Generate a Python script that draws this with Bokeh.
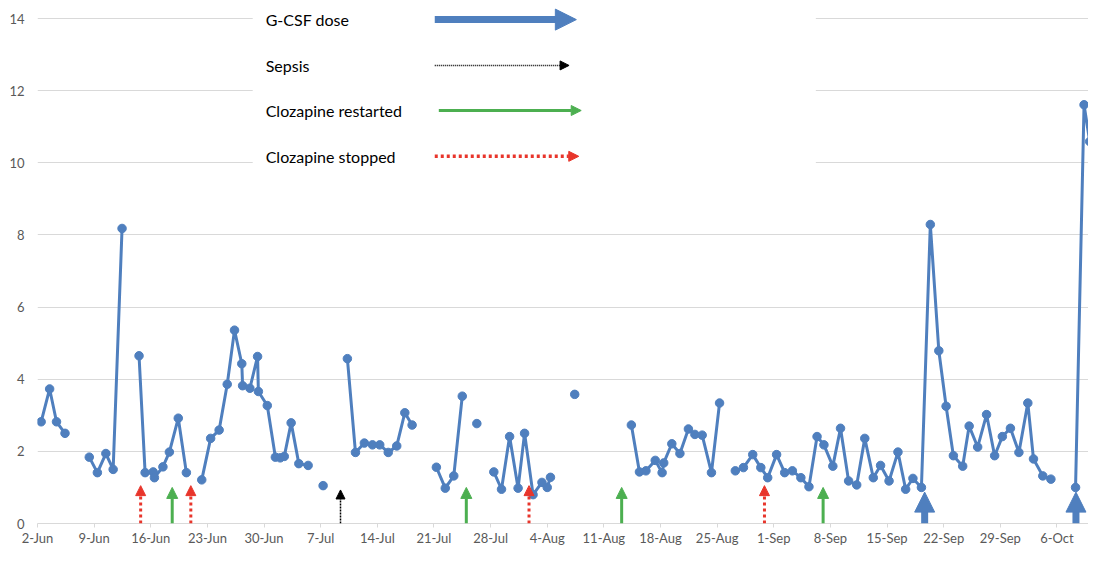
import math
from bokeh.plotting import figure
from bokeh.models import (Arrow, NormalHead, Label, BoxAnnotation, FixedTicker,
                          Range1d, ColumnDataSource)
from bokeh.embed import file_html
from bokeh.resources import INLINE

# ---------------- data ----------------
# x = days since 2-Jun (fractional: measurement time), None = gap in the record
day = [0.45, 1.5, 2.35, 3.4, None,
       6.4, 7.4, 8.45, 9.35, 10.45, None,
       12.55, 13.3, 14.3, 14.45, 15.5, 16.3, 17.4, 18.4, None,
       20.3, 21.4, 22.45, 23.45, 24.35, 25.25, 25.35, 26.25, 27.2, 27.3, 28.4,
       29.4, 30.0, 30.5, 31.35, 32.3, 33.45, None,
       35.3, None,
       38.3, 39.3, 40.4, 41.4, 42.3, 43.35, 44.4, 45.4, 46.3, None,
       49.3, 50.4, 51.45, 52.5, None,
       54.3, None,
       56.4, 57.35, 58.35, 59.4, 60.2, 61.25, 62.35, 63.0, 63.4, None,
       66.4, None,
       73.4, 74.4, 75.2, 76.35, 77.2, 77.4, 78.4, 79.4, 80.45, 81.25, 82.15, 83.3, 84.3, None,
       86.25, 87.25, 88.4, 89.4, 90.25, 91.35, 92.35, 93.3, 94.35, 95.35, 96.35, 97.2,
       98.3, 99.25, 100.25, 101.25, 102.25, 103.3, 104.2, 105.25, 106.35, 107.3, 108.2,
       109.25, 110.35, 111.4, 112.3, 113.2, 114.35, 115.15, 116.2, 117.3, 118.3, 119.25,
       120.25, 121.3, 122.4, 123.1, 124.25, 125.25, None,
       128.3, 129.35, 130.05, 130.7]
neutrophils = [2.82, 3.73, 2.82, 2.5, None,
               1.84, 1.41, 1.94, 1.5, 8.18, None,
               4.65, 1.41, 1.43, 1.27, 1.57, 1.98, 2.92, 1.41, None,
               1.21, 2.36, 2.59, 3.86, 5.36, 4.43, 3.82, 3.75, 4.63, 3.66, 3.27,
               1.84, 1.82, 1.86, 2.79, 1.66, 1.61, None,
               1.05, None,
               4.57, 1.97, 2.23, 2.18, 2.18, 1.97, 2.15, 3.07, 2.73, None,
               1.56, 0.98, 1.32, 3.53, None,
               2.77, None,
               1.43, 0.95, 2.41, 0.98, 2.5, 0.8, 1.14, 1.0, 1.28, None,
               3.58, None,
               2.73, 1.43, 1.46, 1.75, 1.41, 1.68, 2.21, 1.94, 2.62, 2.47, 2.45, 1.41, 3.34, None,
               1.46, 1.55, 1.91, 1.55, 1.27, 1.91, 1.41, 1.46, 1.27, 1.02, 2.41, 2.18,
               1.59, 2.64, 1.18, 1.07, 2.36, 1.27, 1.61, 1.18, 1.98, 0.95, 1.25,
               1.0, 8.29, 4.79, 3.25, 1.88, 1.59, 2.7, 2.12, 3.02, 1.88, 2.41,
               2.64, 1.97, 3.34, 1.79, 1.32, 1.23, None,
               1.0, 11.61, 10.59, 6.95]

tick_days = [0, 7, 14, 21, 28, 35, 42, 49, 56, 63, 70, 77, 84, 91, 98, 105, 112, 119, 126]
tick_labels = ["2-Jun", "9-Jun", "16-Jun", "23-Jun", "30-Jun", "7-Jul", "14-Jul", "21-Jul",
               "28-Jul", "4-Aug", "11-Aug", "18-Aug", "25-Aug", "1-Sep", "8-Sep", "15-Sep",
               "22-Sep", "29-Sep", "6-Oct"]
y_ticks = [0, 2, 4, 6, 8, 10, 12, 14]

# events (days since 2-Jun)
gcsf_dose = [109.65, 128.35]
sepsis = [37.45]
clozapine_restarted = [16.65, 53.0, 72.2, 97.1]
clozapine_stopped = [12.75, 18.95, 60.75, 89.85]

legend_labels = ["G-CSF dose", "Sepsis", "Clozapine restarted", "Clozapine stopped"]

# ---------------- style ----------------
BLUE = "#4f7fbe"
RED = "#e8352b"
GREEN = "#4caf50"
BLACK = "#000000"
GRID = "#d9d9d9"
TXT = "#595959"
FONT = "Lato"

p = figure(width=1088, height=548, x_range=Range1d(0, 129.9), y_range=Range1d(0, 14.5),
           output_backend="svg", toolbar_location=None,
           min_border_left=37, min_border_right=0, min_border_top=0, min_border_bottom=0)
p.outline_line_color = None
p.background_fill_color = "white"
p.border_fill_color = "white"

p.xgrid.visible = False
p.ygrid.grid_line_color = GRID
p.ygrid.grid_line_width = 1
p.ygrid.ticker = FixedTicker(ticks=y_ticks)

p.yaxis.ticker = FixedTicker(ticks=y_ticks)
p.yaxis.axis_line_color = None
p.yaxis.major_tick_line_color = None
p.yaxis.minor_tick_line_color = None
p.yaxis.major_label_standoff = 7
p.yaxis.major_label_text_font = FONT
p.yaxis.major_label_text_font_size = "13px"
p.yaxis.major_label_text_color = TXT

p.xaxis.ticker = FixedTicker(ticks=tick_days)
p.xaxis.major_label_overrides = {d: lab for d, lab in zip(tick_days, tick_labels)}
p.xaxis.axis_line_color = GRID
p.xaxis.axis_line_width = 1
p.xaxis.major_tick_line_color = GRID
p.xaxis.major_tick_in = 0
p.xaxis.major_tick_out = 4
p.xaxis.minor_tick_line_color = None
p.xaxis.major_label_standoff = 2
p.xaxis.major_label_text_font = FONT
p.xaxis.major_label_text_font_size = "13px"
p.xaxis.major_label_text_color = TXT

# white legend panel hiding the grid lines behind the legend
p.add_layout(BoxAnnotation(left=26.6, right=96.2, bottom=9.6, fill_color="white",
                           fill_alpha=1.0, line_alpha=0))

# ---------------- data series ----------------
ys = [float("nan") if v is None else v for v in neutrophils]
xs = [float("nan") if v is None else v for v in day]
src = ColumnDataSource(dict(x=xs, y=ys))
p.line("x", "y", source=src, line_color=BLUE, line_width=3, line_join="round")
p.scatter("x", "y", source=src, size=8.5, fill_color=BLUE, line_color=BLUE)

# ---------------- event arrows ----------------
def event_arrows(xs_, tip, color, width, dash, head):
    s = ColumnDataSource(dict(x=xs_, y0=[0] * len(xs_), y1=[tip] * len(xs_)))
    p.add_layout(Arrow(end=NormalHead(size=head, fill_color=color, line_color=color, line_width=1),
                       x_start="x", y_start="y0", x_end="x", y_end="y1", source=s,
                       line_color=color, line_width=width, line_dash=dash))

event_arrows(clozapine_stopped, 1.05, RED, 3, "3 3", 10)
event_arrows(clozapine_restarted, 1.0, GREEN, 3, "solid", 11)
event_arrows(sepsis, 0.93, BLACK, 1.5, "2 1", 9)

# G-CSF: thick shaft + big head
gsrc = ColumnDataSource(dict(x=gcsf_dose, y0=[0] * len(gcsf_dose),
                             ym=[0.55] * len(gcsf_dose), y1=[0.87] * len(gcsf_dose)))
p.add_layout(Arrow(end=None, x_start="x", y_start="y0", x_end="x", y_end="ym", source=gsrc,
                   line_color=BLUE, line_width=7))
p.add_layout(Arrow(end=NormalHead(size=20, fill_color=BLUE, line_color=BLUE, line_width=1),
                   x_start="x", y_start="y0", x_end="x", y_end="y1", source=gsrc,
                   line_alpha=0))

# ---------------- legend ----------------
leg_y = [13.97, 12.7, 11.45, 10.18]
leg_text_x = 28.2
for lab, yy in zip(legend_labels, leg_y):
    p.add_layout(Label(x=leg_text_x, y=yy, text=lab, text_baseline="middle", text_align="left",
                       text_font=FONT, text_font_size="16px", text_color="black"))

# G-CSF legend arrow
p.add_layout(Arrow(end=None, x_start=49.1, y_start=leg_y[0], x_end=64.5, y_end=leg_y[0],
                   line_color=BLUE, line_width=7))
p.add_layout(Arrow(end=NormalHead(size=21, fill_color=BLUE, line_color=BLUE, line_width=1),
                   x_start=49.1, y_start=leg_y[0], x_end=66.6, y_end=leg_y[0], line_alpha=0))
# Sepsis
p.add_layout(Arrow(end=NormalHead(size=9, fill_color=BLACK, line_color=BLACK, line_width=1),
                   x_start=49.1, y_start=leg_y[1], x_end=65.7, y_end=leg_y[1],
                   line_color=BLACK, line_width=1.5, line_dash="1 1"))
# Clozapine restarted
p.add_layout(Arrow(end=NormalHead(size=10, fill_color=GREEN, line_color=GREEN, line_width=1),
                   x_start=49.6, y_start=leg_y[2], x_end=67.2, y_end=leg_y[2],
                   line_color=GREEN, line_width=3))
# Clozapine stopped
p.add_layout(Arrow(end=NormalHead(size=10, fill_color=RED, line_color=RED, line_width=1),
                   x_start=49.1, y_start=leg_y[3], x_end=66.9, y_end=leg_y[3],
                   line_color=RED, line_width=3.5, line_dash="3 3"))

open("out.html", "w").write(file_html(p, INLINE))
